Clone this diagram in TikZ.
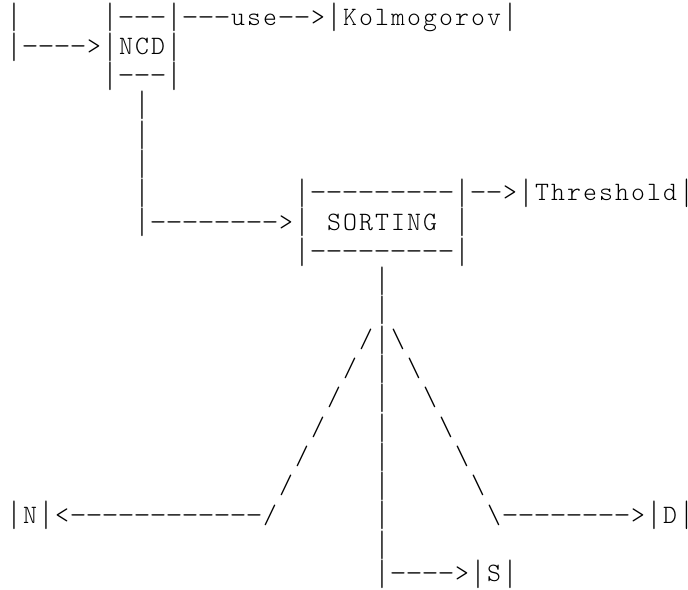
\documentclass[tikz,border=0pt]{standalone}
\usepackage{graphicx}
\usepackage{fontspec}
\newfontfamily\asciifont{lmmonolt10-regular}[Extension=.otf]
\newlength\cellw
\setlength\cellw{16pt}
\newsavebox\barbox
\newcommand\barglyph{\sbox\barbox{|}\raisebox{-7pt}{\resizebox*{\wd\barbox}{28.7pt}{\raisebox{\dp\barbox}{|}}}}
\newcommand\dashglyph{\scalebox{1.22}[1]{-}}
\def\monoglyph#1{\ifx#1|\barglyph\else\ifx#1-\dashglyph\else#1\fi\fi}
\def\monoloop#1{\ifx#1\relax\else\hbox to \cellw{\hss\monoglyph{#1}\hss}\expandafter\monoloop\fi}
\newcommand\monostr[1]{\monoloop#1\relax}
\newcommand\bsl{\textbackslash}
\tikzset{
  asc/.style={anchor=base west, inner sep=0pt, outer sep=0pt,
    font=\asciifont\fontsize{26.5}{29.3}\selectfont}
}
% text fragment starting at column #2 of row #3
\newcommand\asc[4]{\node[asc] (#1) at ({6+16*#2},{25+29.3*#3}) {\monostr{#4}};}
% closing bar centred on column #2 of row #3 (zero width, keeps inside the edge)
\newcommand\ascend[3]{\node[asc] (#1) at ({14+16*#2},{25+29.3*#3}) {\hbox to 0pt{\hss\barglyph\hss}};}
\begin{document}
\begin{tikzpicture}[x=1pt,y=-1pt]
\useasboundingbox (0,0) rectangle (688,589);
% rows 0-2: NCD block
\asc{inbar}{0}{0}{|}
\asc{ncdtop}{6}{0}{|---|---use-->|Kolmogorov|}
\asc{ncd}{0}{1}{|---->|NCD|}
\asc{ncdbot}{6}{2}{|---|}
% vertical from NCD
\asc{va}{8}{3}{|}
\asc{vb}{8}{4}{|}
\asc{vc}{8}{5}{|}
\asc{vd}{8}{6}{|}
% sorting block
\asc{sorttop}{18}{6}{|---------|-->|Threshold}
\ascend{thrend}{42}{6}
\asc{sortarrow}{8}{7}{|-------->|}
\asc{sorting}{20}{7}{SORTING}
\asc{sortright}{28}{7}{|}
\asc{sortbot}{18}{8}{|---------|}
% trunk and fork
\asc{ta}{23}{9}{|}
\asc{tb}{23}{10}{|}
\asc{fork}{22}{11}{/|\bsl}
\asc{la}{21}{12}{/}\asc{tc}{23}{12}{|}\asc{ra}{25}{12}{\bsl}
\asc{lb}{20}{13}{/}\asc{td}{23}{13}{|}\asc{rb}{26}{13}{\bsl}
\asc{lc}{19}{14}{/}\asc{te}{23}{14}{|}\asc{rc}{27}{14}{\bsl}
\asc{ld}{18}{15}{/}\asc{tf}{23}{15}{|}\asc{rd}{28}{15}{\bsl}
\asc{le}{17}{16}{/}\asc{tg}{23}{16}{|}\asc{re}{29}{16}{\bsl}
\asc{nrow}{0}{17}{|N|<------------/}
\asc{th}{23}{17}{|}
\asc{drow}{30}{17}{\bsl-------->|D}
\ascend{dend}{42}{17}
\asc{ti}{23}{18}{|}
\asc{srow}{23}{19}{|---->|S|}
\end{tikzpicture}
\end{document}
